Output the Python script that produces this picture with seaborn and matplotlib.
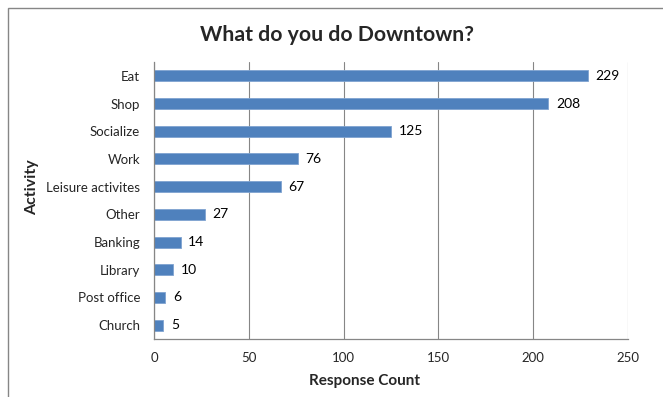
import matplotlib
matplotlib.use("Agg")
import matplotlib.pyplot as plt
import seaborn as sns
import pandas as pd
from matplotlib.patches import Rectangle

activities = ["Eat", "Shop", "Socialize", "Work", "Leisure activites",
              "Other", "Banking", "Library", "Post office", "Church"]
counts = [229, 208, 125, 76, 67, 27, 14, 10, 6, 5]
x_ticks = [0, 50, 100, 150, 200, 250]

sns.set_theme(style="white")
plt.rcParams["font.family"] = ["Lato", "DejaVu Sans"]

df = pd.DataFrame({"Activity": activities, "Response Count": counts})

W, H = 663, 397
fig = plt.figure(figsize=(W / 100, H / 100), dpi=100)
ax = fig.add_axes([154 / W, 1 - 339 / H, (628 - 154) / W, (339 - 62) / H])

sns.barplot(data=df, y="Activity", x="Response Count", orient="h",
            color="#4F81BD", saturation=1, width=0.4, ax=ax,
            edgecolor="#7FA3D0", linewidth=0.6)

ax.set_xlim(0, 250)
ax.set_xticks(x_ticks)
ax.set_xticklabels([str(t) for t in x_ticks], fontsize=9.5)
ax.set_ylim(len(activities) - 0.5, -0.5)
ax.set_yticks(range(len(activities)))
ax.set_yticklabels(activities, fontsize=9.5)
ax.tick_params(axis="y", length=0, pad=10)
ax.tick_params(axis="x", length=4, color="#868686", direction="out", pad=5)

# category boundary ticks on the value axis
ax.set_yticks([i - 0.5 for i in range(len(activities) + 1)], minor=True)
ax.tick_params(axis="y", which="minor", length=5, color="#868686", direction="out")

ax.grid(axis="x", color="#868686", linewidth=0.8)
ax.set_axisbelow(True)
for side in ["top", "right"]:
    ax.spines[side].set_visible(False)
for side in ["left", "bottom"]:
    ax.spines[side].set_color("#868686")
    ax.spines[side].set_linewidth(0.9)

for i, v in enumerate(counts):
    ax.text(v + 4, i, str(v), va="center", ha="left", fontsize=10, color="black")

ax.set_xlabel("")
ax.set_ylabel("")
fig.text(364 / W, 1 - 381 / H, "Response Count", ha="center", va="center",
         fontsize=11, fontweight="bold")
fig.text(32 / W, 1 - 187 / H, "Activity", ha="center", va="center",
         rotation=90, fontsize=11.5, fontweight="bold")
fig.text(337 / W, 1 - 35 / H, "What do you do Downtown?", ha="center", va="center",
         fontsize=15.3, fontweight="bold")

# chart frame
fig.patches.append(Rectangle((8 / W, -0.1), 1.2, 1.1 - 8 / H,
                             transform=fig.transFigure, fill=False,
                             edgecolor="#868686", linewidth=1))

fig.savefig("out.png", dpi=100)
